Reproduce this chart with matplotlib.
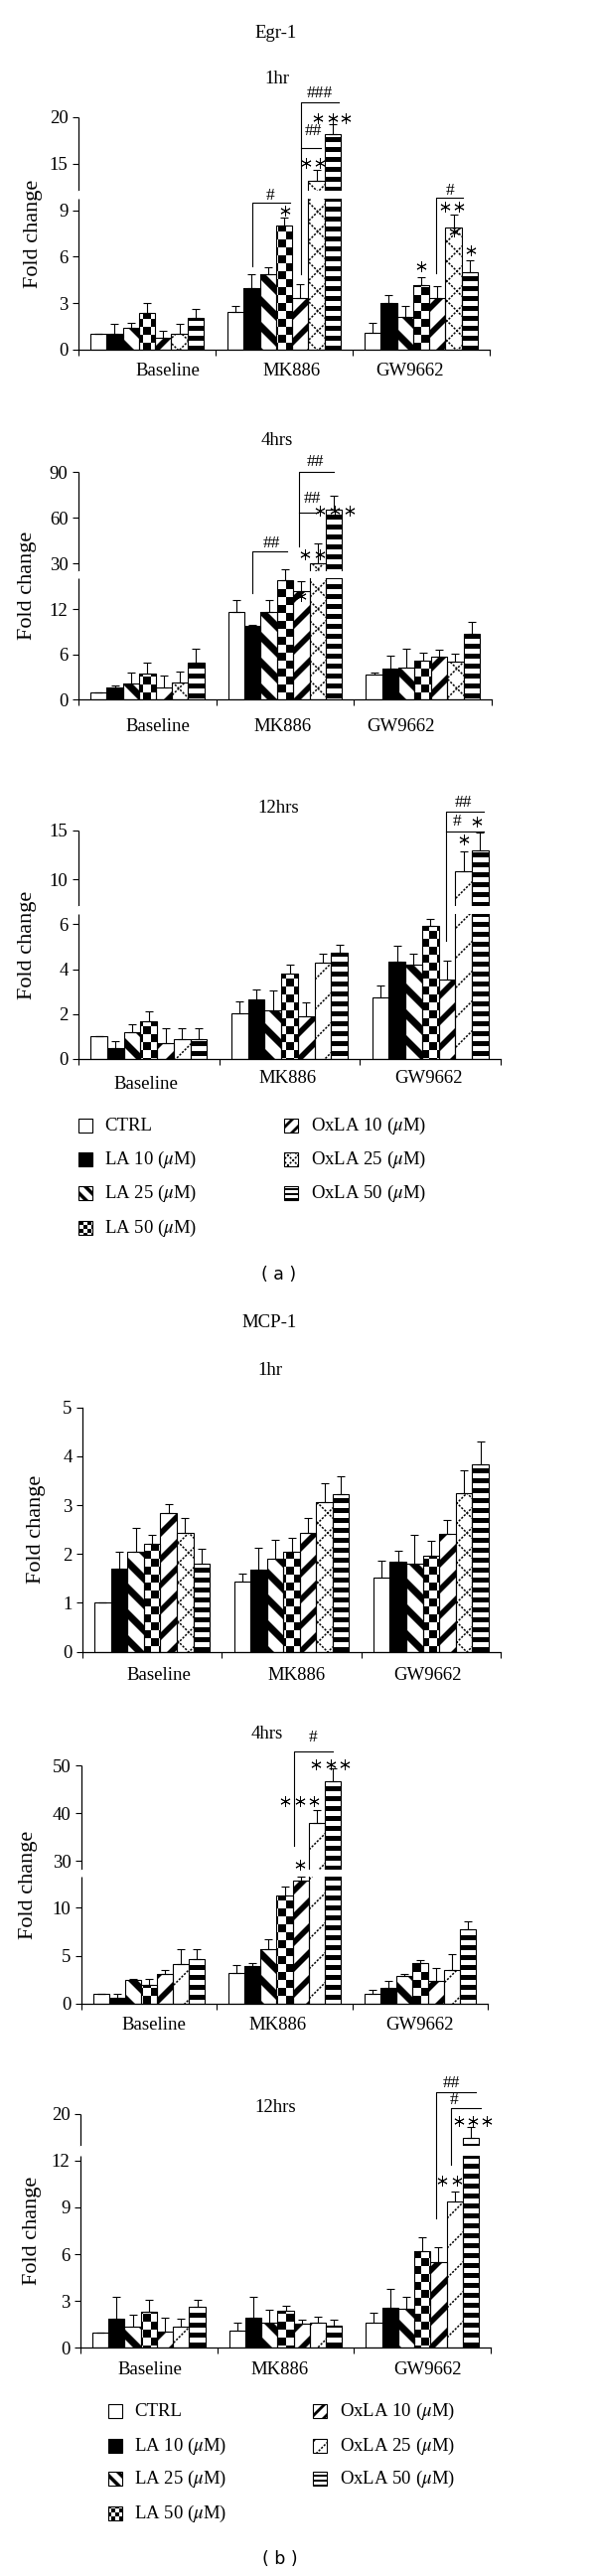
import numpy as np
import matplotlib
matplotlib.use("Agg")
import matplotlib.pyplot as plt
from matplotlib.patches import Rectangle
from matplotlib.collections import PolyCollection, LineCollection
from matplotlib.transforms import IdentityTransform
from matplotlib.ticker import NullLocator

plt.rcParams["font.family"] = ["Liberation Serif", "DejaVu Serif"]
plt.rcParams["mathtext.fontset"] = "stix"

# ---------------- data ----------------
groups = ["Baseline", "MK886", "GW9662"]
series = ["CTRL", r"LA 10 ($\mu$M)", r"LA 25 ($\mu$M)", r"LA 50 ($\mu$M)",
          r"OxLA 10 ($\mu$M)", r"OxLA 25 ($\mu$M)", r"OxLA 50 ($\mu$M)"]

# rows = groups, cols = series
egr1_1hr = [[1.0, 1.0, 1.4, 2.35, 0.8, 1.0, 2.07],
            [2.45, 4.0, 4.85, 8.0, 3.35, 13.1, 18.2],
            [1.07, 3.0, 2.1, 4.17, 3.36, 7.9, 5.03]]
egr1_1hr_err = [[0.0, 0.65, 0.35, 0.65, 0.4, 0.65, 0.55],
                [0.4, 0.88, 0.45, 0.55, 0.85, 1.2, 1.0],
                [0.63, 0.5, 0.75, 0.5, 0.71, 0.8, 0.75]]

egr1_4hrs = [[1.0, 1.66, 2.1, 3.5, 1.66, 2.24, 4.95],
             [11.6, 9.78, 11.6, 15.9, 14.4, 30.4, 65.5],
             [3.3, 4.1, 4.3, 5.2, 5.7, 5.1, 8.7]]
egr1_4hrs_err = [[0.0, 0.25, 1.45, 1.37, 1.54, 1.48, 1.85],
                 [1.55, 0.15, 1.55, 10.2, 1.3, 13.0, 9.3],
                 [0.35, 1.75, 2.4, 1.0, 0.9, 1.0, 1.6]]

egr1_12hrs = [[1.0, 0.49, 1.18, 1.7, 0.71, 0.88, 0.88],
              [2.04, 2.67, 2.15, 3.8, 1.89, 4.28, 4.73],
              [2.74, 4.35, 4.22, 5.94, 3.54, 10.85, 12.96]]
egr1_12hrs_err = [[0.0, 0.29, 0.37, 0.44, 0.66, 0.49, 0.47],
                  [0.51, 0.43, 0.89, 0.42, 0.65, 0.41, 0.36],
                  [0.52, 0.71, 0.47, 0.3, 0.86, 2.0, 1.8]]

mcp1_1hr = [[1.0, 1.70, 2.05, 2.2, 2.83, 2.43, 1.8],
            [1.43, 1.68, 1.9, 2.04, 2.44, 3.07, 3.22],
            [1.52, 1.84, 1.8, 1.97, 2.41, 3.24, 3.84]]
mcp1_1hr_err = [[0.0, 0.35, 0.49, 0.19, 0.19, 0.3, 0.31],
                [0.17, 0.45, 0.39, 0.29, 0.3, 0.37, 0.38],
                [0.35, 0.23, 0.59, 0.3, 0.29, 0.47, 0.47]]

mcp1_4hrs = [[0.97, 0.55, 2.5, 1.9, 3.13, 4.17, 4.69],
             [3.23, 3.93, 5.66, 11.3, 12.85, 37.9, 46.7],
             [1.04, 1.63, 2.88, 4.24, 2.33, 3.54, 7.75]]
mcp1_4hrs_err = [[0.0, 0.5, 0.1, 0.7, 0.34, 1.56, 1.04],
                 [0.77, 0.34, 1.11, 0.9, 0.4, 2.7, 2.7],
                 [0.35, 0.7, 0.25, 0.34, 1.42, 1.66, 0.83]]

mcp1_12hrs = [[1.0, 1.87, 1.34, 2.33, 1.02, 1.38, 2.61],
              [1.12, 1.91, 1.6, 2.38, 1.55, 1.59, 1.44],
              [1.59, 2.55, 2.51, 6.22, 5.48, 9.4, 15.5]]
mcp1_12hrs_err = [[0.0, 1.42, 0.78, 0.75, 0.93, 0.51, 0.47],
                  [0.51, 1.38, 0.84, 0.33, 0.23, 0.42, 0.36],
                  [0.68, 1.23, 0.78, 0.89, 0.95, 0.6, 2.0]]

# significance marks: (kind, ...) in data coords of each panel
egr1_1hr_notes = [("bracket", 1.268, 5.4, 9.49, 1.543), ("text", 1.40, 10.6, "#"),
                  ("star", [1.507], 8.97),
                  ("bracket", 1.623, 4.87, 21.6, 1.899), ("text", 1.761, 22.6, "###"),
                  ("hline", 1.623, 1.768, 16.68), ("text", 1.71, 18.5, "##"),
                  ("star", [1.66, 1.76], 15.07),
                  ("star", [1.746, 1.855, 1.949], 19.9),
                  ("bracket", 2.609, 4.94, 10.03, 2.804), ("text", 2.71, 12.07, "#"),
                  ("star", [2.674, 2.775], 9.21), ("star", [2.5], 5.38),
                  ("star", [2.862], 6.41), ("star", [2.737], 7.6)]
egr1_4hrs_notes = [("bracket", 1.26, 14.1, 38.0, 1.514), ("text", 1.40, 43.4, "##"),
                   ("bracket", 1.60, 41.3, 90.0, 1.853), ("text", 1.723, 96.7, "##"),
                   ("hline", 1.60, 1.738, 63.7), ("text", 1.70, 72.8, "##"),
                   ("star", [1.644, 1.752], 36.1),
                   ("star", [1.752, 1.86, 1.968], 64.8),
                   ("star", [1.615], 13.7)]
egr1_12hrs_notes = [("bracket", 2.611, 5.28, 16.97, 2.879), ("text", 2.738, 17.86, "##"),
                    ("hline", 2.611, 2.879, 14.93), ("text", 2.689, 15.92, "#"),
                    ("star", [2.83], 15.92), ("star", [2.738], 14.08)]
mcp1_1hr_notes = []
mcp1_4hrs_notes = [("bracket", 1.57, 33.1, 52.9, 1.856), ("text", 1.71, 55.8, "#"),
                   ("star", [1.731, 1.841, 1.944], 50.3),
                   ("star", [1.504, 1.614, 1.717], 42.6),
                   ("star", [1.614], 29.3)]
mcp1_12hrs_notes = [("bracket", 2.6, 8.28, 24.1, 2.89), ("text", 2.716, 25.65, "##"),
                    ("bracket", 2.709, 11.72, 21.1, 2.927), ("text", 2.73, 22.5, "#"),
                    ("star", [2.767, 2.869, 2.97], 18.64),
                    ("star", [2.643, 2.752], 10.72)]

# ---------------- layout (pixels, y measured from top) ----------------
W, H = 600, 2593
kinds = ["none", "solid", "bdiag", "check", "fdiag", "ox25", "hstripe"]

panels = [
    dict(m=egr1_1hr, e=egr1_1hr_err, notes=egr1_1hr_notes, x0=79, x1=493, top=118, bot=352,
         ymax=20, brk=(9.74, 200, 12.07, 192), ticks=[0, 3, 6, 9, 15, 20],
         labx=[0.652, 1.558, 2.42], labdy=[21, 21, 21], ylab=34, ox="thin_x"),
    dict(m=egr1_4hrs, e=egr1_4hrs_err, notes=egr1_4hrs_notes, x0=79, x1=495, top=475.3, bot=704.3,
         ymax=90, brk=(16.1, 582, 25.0, 575), ticks=[0, 6, 12, 30, 60, 90],
         labx=[0.579, 1.48, 2.34], labdy=[27, 27, 27], ylab=28, ox="thin_x"),
    dict(m=egr1_12hrs, e=egr1_12hrs_err, notes=egr1_12hrs_notes, x0=79, x1=504, top=836, bot=1066,
         ymax=15, brk=(6.46, 920, 7.28, 911.7), ticks=[0, 2, 4, 6, 10, 15],
         labx=[0.478, 1.489, 2.49], labdy=[25.5, 19.7, 20], ylab=28, ox="thin_f"),
    dict(m=mcp1_1hr, e=mcp1_1hr_err, notes=mcp1_1hr_notes, x0=83, x1=504, top=1416.7, bot=1662.7,
         ymax=5, brk=None, ticks=[0, 1, 2, 3, 4, 5],
         labx=[0.549, 1.535, 2.473], labdy=[24, 24, 24], ylab=36, ox="thin_x"),
    dict(m=mcp1_4hrs, e=mcp1_4hrs_err, notes=mcp1_4hrs_notes, x0=82, x1=491, top=1777.3, bot=2016.7,
         ymax=50, brk=(13.26, 1889, 28.25, 1881.7), ticks=[0, 5, 10, 30, 40, 50],
         labx=[0.531, 1.448, 2.5], labdy=[21.6, 21.6, 21.6], ylab=28, ox="thin_f"),
    dict(m=mcp1_12hrs, e=mcp1_12hrs_err, notes=mcp1_12hrs_notes, x0=81, x1=494, top=2127.7, bot=2363.3,
         ymax=20, brk=(12.31, 2170, 14.0, 2160), ticks=[0, 3, 6, 9, 12, 20],
         labx=[0.506, 1.457, 2.54], labdy=[21.7, 21.7, 21.7], ylab=33, ox="thin_f"),
]

titles = [("Egr-1", 278, 33), ("1hr", 279, 80), ("4hrs", 279, 443), ("12hrs", 280, 814),
          ("MCP-1", 271, 1331), ("1hr", 272, 1379), ("4hrs", 269, 1745), ("12hrs", 277, 2121)]

FS = 13.5


def make_scale(bot, top, ymax, brk):
    if brk is None:
        vs, hs = [0, ymax], [0, bot - top]
    else:
        a, pa, b, pb = brk
        vs, hs = [0, a, b, ymax], [0, bot - pa, bot - pb, bot - top]
    vs, hs = np.array(vs, float), np.array(hs, float)

    def conv(v, xs, ys):
        v = np.asarray(v, float)
        out = np.interp(v, xs, ys)
        s0 = (ys[1] - ys[0]) / (xs[1] - xs[0])
        s1 = (ys[-1] - ys[-2]) / (xs[-1] - xs[-2])
        out = np.where(v < xs[0], ys[0] + (v - xs[0]) * s0, out)
        out = np.where(v > xs[-1], ys[-1] + (v - xs[-1]) * s1, out)
        return out

    return (lambda v: conv(v, vs, hs)), (lambda h: conv(h, hs, vs))


def fill_pattern(ax, patch, kind, scale=1.0):
    bb = patch.get_window_extent()
    x0, y0, x1, y1 = bb.x0 - 2, bb.y0 - 2, bb.x1 + 2, bb.y1 + 2
    polys, segs = [], []
    if kind in ("bdiag", "fdiag"):
        P = 26 * scale
        t = (10 if kind == "bdiag" else 8) * scale
        sg = 1 if kind == "fdiag" else -1
        lo, hi = (y0 - x1, y1 - x0) if sg == 1 else (y0 + x0, y1 + x1)
        for k in range(int(np.floor((lo - t) / P)), int(np.ceil(hi / P)) + 1):
            c = k * P
            polys.append([(x0, sg * x0 + c), (x1, sg * x1 + c),
                          (x1, sg * x1 + c + t), (x0, sg * x0 + c + t)])
    elif kind == "hstripe":
        P, t = 10 * scale, 5 * scale
        for k in range(int(np.floor((y0 - t) / P)), int(np.ceil(y1 / P)) + 1):
            y = k * P
            polys.append([(x0, y), (x1, y), (x1, y + t), (x0, y + t)])
    elif kind == "check":
        s = 8 * scale
        for i in range(int(np.floor(x0 / s)), int(np.ceil(x1 / s))):
            for j in range(int(np.floor(y0 / s)), int(np.ceil(y1 / s))):
                if (i + j) % 2 == 0:
                    polys.append([(i * s, j * s), ((i + 1) * s, j * s),
                                  ((i + 1) * s, (j + 1) * s), (i * s, (j + 1) * s)])
    elif kind in ("thin_x", "thin_f"):
        P = (20 if kind == "thin_x" else 30) * scale
        for sg in ([1, -1] if kind == "thin_x" else [1]):
            lo, hi = (y0 - x1, y1 - x0) if sg == 1 else (y0 + x0, y1 + x1)
            for k in range(int(np.floor(lo / P)), int(np.ceil(hi / P)) + 1):
                c = k * P
                segs.append([(x0, sg * x0 + c), (x1, sg * x1 + c)])
    arts = []
    if polys:
        arts.append(PolyCollection(polys, facecolors="k", edgecolors="none",
                                   transform=IdentityTransform(), zorder=2.1))
    if segs:
        arts.append(LineCollection(segs, colors="k", linewidths=1.1,
                                   linestyles=(0, (1.4, 1.0)),
                                   transform=IdentityTransform(), zorder=2.1))
    for art in arts:
        ax.add_collection(art, autolim=False)
        # clip to the bar itself (after add_collection, which sets the axes clip)
        art.set_clip_path(patch)


fig = plt.figure(figsize=(W / 100, H / 100), dpi=100)
ov = fig.add_axes([0, 0, 1, 1])
ov.set_xlim(0, W)
ov.set_ylim(H, 0)
ov.axis("off")

for s, x, y in titles:
    ov.text(x, y, s, ha="center", va="center", fontsize=FS)
ov.text(281, 1283, "( a )", ha="center", va="center", fontsize=12.5, family="DejaVu Sans")
ov.text(282, 2576, "( b )", ha="center", va="center", fontsize=12.5, family="DejaVu Sans")

w = 0.118
left0 = (1 - 7 * w) / 2

for p in panels:
    ax = fig.add_axes([p["x0"] / W, 1 - p["bot"] / H, (p["x1"] - p["x0"]) / W,
                       (p["bot"] - p["top"]) / H])
    ax.patch.set_visible(False)
    fwd, inv = make_scale(p["bot"], p["top"], p["ymax"], p["brk"])
    ax.set_yscale("function", functions=(fwd, inv))
    ax.set_xlim(0, 3)
    ax.set_ylim(0, p["ymax"])
    ax.set_yticks(p["ticks"])
    ax.yaxis.set_minor_locator(NullLocator())
    ax.set_xticks([0, 1, 2, 3])
    ax.set_xticklabels([])
    ax.tick_params(axis="both", direction="out", length=4.5, width=0.8,
                   labelsize=FS, pad=3)
    for sp in ["top", "right", "left"]:
        ax.spines[sp].set_visible(False)
    ax.spines["bottom"].set_linewidth(0.9)
    ytr = ax.get_yaxis_transform()
    if p["brk"] is None:
        ax.plot([0, 0], [0, p["ymax"]], transform=ytr, color="k", lw=0.9, clip_on=False)
    else:
        a, pa, b, pb = p["brk"]
        ax.plot([0, 0], [0, a], transform=ytr, color="k", lw=0.9, clip_on=False,
                solid_capstyle="butt")
        ax.plot([0, 0], [b, p["ymax"]], transform=ytr, color="k", lw=0.9, clip_on=False,
                solid_capstyle="butt")
        ax.axhspan(a, b, color="white", lw=0, zorder=2.6)

    m = np.array(p["m"])
    e = np.array(p["e"])
    for i in range(7):
        xc = np.arange(3) + left0 + (i + 0.5) * w
        kind = p["ox"] if kinds[i] == "ox25" else kinds[i]
        face = "k" if kind == "solid" else "white"
        fills = ax.bar(xc, m[:, i], w, color=face, edgecolor="none", zorder=2)
        if kind not in ("none", "solid"):
            for bar in fills.patches:
                fill_pattern(ax, bar, kind)
        ax.bar(xc, m[:, i], w, fill=False, edgecolor="k", linewidth=0.8, zorder=2.2)
        ax.errorbar(xc, m[:, i], yerr=[np.zeros(3), e[:, i]], fmt="none", ecolor="k",
                    elinewidth=0.8, capsize=2.6, capthick=0.8, zorder=3)

    for gx, dy, g in zip(p["labx"], p["labdy"], groups):
        ax.annotate(g, xy=(gx, 0), xycoords=("data", "axes fraction"), xytext=(0, -dy),
                    textcoords="offset pixels", ha="center", va="center", fontsize=FS,
                    annotation_clip=False)
    ax.annotate("Fold change", xy=(0, 0.5), xycoords="axes fraction",
                xytext=(p["ylab"] - p["x0"], 0), textcoords="offset pixels",
                rotation=90, ha="center", va="center", fontsize=16)

    for note in p["notes"]:
        if note[0] == "bracket":
            _, xl, yb, yt, xr = note
            ax.plot([xl, xl, xr], [yb, yt, yt], color="k", lw=0.8, clip_on=False, zorder=4)
        elif note[0] == "hline":
            _, xl, xr, y = note
            ax.plot([xl, xr], [y, y], color="k", lw=0.8, clip_on=False, zorder=4)
        elif note[0] == "text":
            _, x, y, s = note
            ax.text(x, y, s, ha="center", va="center", fontsize=12.5, zorder=4)
        elif note[0] == "star":
            _, xs, y = note
            ax.plot(xs, [y] * len(xs), ls="none", marker=(6, 2, 0), ms=7.5, mew=0.65,
                    color="k", clip_on=False, zorder=4)

# legends
legends = [
    dict(c1=(79, 105), c2=(286, 313), rows=[1133, 1167, 1201, 1236], ox="thin_x"),
    dict(c1=(109, 135), c2=(315, 342), rows=[2427, 2462, 2495, 2530], ox="thin_f"),
]
for lg in legends:
    for i, lab in enumerate(series):
        if i < 4:
            bx, tx = lg["c1"]
            y = lg["rows"][i]
        else:
            bx, tx = lg["c2"]
            y = lg["rows"][i - 4]
        kind = lg["ox"] if kinds[i] == "ox25" else kinds[i]
        face = "k" if kind == "solid" else "white"
        r = Rectangle((bx, y - 7), 14, 14, facecolor=face, edgecolor="none", zorder=2)
        ov.add_patch(r)
        if kind not in ("none", "solid"):
            fill_pattern(ov, r, kind, scale=0.5)
        ov.add_patch(Rectangle((bx, y - 7), 14, 14, fill=False, edgecolor="k", lw=0.8, zorder=2.2))
        ov.text(tx, y, lab, ha="left", va="center", fontsize=FS)

fig.savefig("out.png", dpi=100, facecolor="white")
